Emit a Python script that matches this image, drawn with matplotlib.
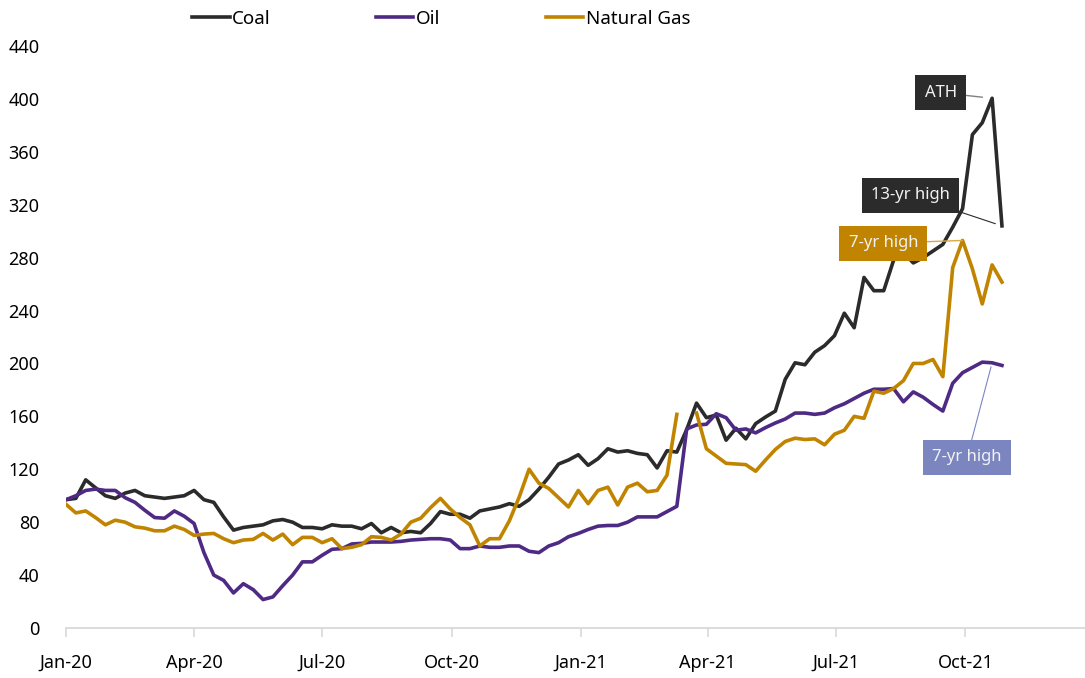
import matplotlib
matplotlib.use('Agg')
import matplotlib.pyplot as plt
import matplotlib.dates as mdates
import numpy as np
import pandas as pd

plt.rcParams['font.family'] = ['Noto Sans', 'DejaVu Sans']

# weekly index values, Jan-20 = ~100
weeks = pd.date_range('2020-01-01', periods=96, freq='7D')

coal = [97, 98, 112, 106, 100, 98, 102, 104, 100, 99,
        98, 99, 100, 104, 97, 95, 84, 74, 76, 77,
        78, 81, 82, 80, 76, 76, 75, 78, 77, 77,
        75, 79, 72, 76, 72, 73, 72, 79, 88, 86,
        86, 83, 88.5, 90, 91.5, 94, 92, 97, 105, 114,
        124, 127, 131, 123, 128, 135.5, 133, 134, 132, 131,
        121, 134, 133, 150, 170, 159, 161, 142, 151, 143,
        154.5, 159.5, 164, 188, 200.5, 199, 208.5, 213.5, 221, 238,
        227, 265, 255, 255, 278, 284, 276, 280, 285, 290,
        303, 317, 373, 382, 400.5, 304]

oil = [97, 100, 104, 105, 104, 104, 98.5, 95, 89, 83.5,
       83, 88.5, 84.5, 79, 57, 40, 36, 26.5, 33.5, 29,
       21.5, 23.5, 32, 40, 50, 50, 55, 59.5, 60, 63.5,
       64, 65, 65, 65, 65.5, 66.5, 67, 67.5, 67.5, 66.5,
       60, 60, 62, 61, 61, 62, 62, 58, 57, 62,
       64.5, 69, 71.5, 74.5, 77, 77.5, 77.5, 80, 84, 84,
       84, 88, 92, 150.5, 153.5, 154, 162, 159, 149.5, 150.5,
       147.5, 151.5, 155, 158, 162.5, 162.5, 161.5, 162.5, 166.5, 169.5,
       173.5, 177.5, 180.5, 180.5, 181, 171, 178.5, 174.5, 169, 164,
       185, 193, 197, 201, 200.5, 198.5]

gas = [93.5, 87, 88.5, 83.5, 78, 81.5, 80, 76.5, 75.5, 73.5,
       73.5, 77, 74.5, 70, 71, 71.5, 67.5, 64.5, 66.5, 67,
       71.5, 66.5, 71, 63, 68.5, 68.5, 64.5, 67.5, 60, 61,
       63, 69, 68.5, 66.5, 71, 80, 83, 91, 98, 90,
       83.5, 78, 62, 67.5, 67.5, 81, 99, 120, 109.5, 105.5,
       98.5, 91.5, 104, 94, 104, 106.5, 93, 106.5, 109.5, 103,
       104, 115.5, 161.5, np.nan, 162.5, 135.5, 130, 124.5, 124, 123.5,
       118.5, 127, 135, 141, 143.5, 142.5, 143, 138.5, 146.5, 149.5,
       160, 158.5, 179, 177.5, 181, 187, 200, 200, 203, 190,
       272.5, 293, 271.5, 245, 274.5, 261.5]

COAL = '#2b2b2b'
OIL = '#4e2a84'
GAS = '#c08400'
OIL_BOX = '#7b86c1'


def label_box(ax, text, xy, offset, box_color, line_color, line_width, shrink):
    ax.annotate(text, xy=xy, xytext=offset, textcoords='offset points',
                ha='center', va='center', fontsize=12, color='#f2f2f2',
                bbox=dict(boxstyle='square,pad=0.56', fc=box_color, ec='none'),
                arrowprops=dict(arrowstyle='-', color=line_color, lw=line_width,
                                shrinkA=0, shrinkB=shrink))


def main() -> None:
    fig = plt.figure(figsize=(10.85, 6.78), dpi=100)
    ax = fig.add_axes([66 / 1085, 50 / 678, 1 - 66 / 1085, 582 / 678])

    ax.plot(weeks, coal, color=COAL, lw=2.6, label='Coal')
    ax.plot(weeks, oil, color=OIL, lw=2.6, label='Oil')
    ax.plot(weeks, gas, color=GAS, lw=2.6, label='Natural Gas')

    ax.set_ylim(0, 440)
    ax.set_yticks(np.arange(0, 441, 40))
    ax.set_xlim(pd.Timestamp('2020-01-01'), pd.Timestamp('2021-12-25'))
    ax.xaxis.set_major_locator(mdates.MonthLocator(bymonth=[1, 4, 7, 10]))
    ax.xaxis.set_major_formatter(mdates.DateFormatter('%b-%y'))

    for side in ['top', 'right', 'left']:
        ax.spines[side].set_visible(False)
    ax.spines['bottom'].set_color('#d9d9d9')
    ax.spines['bottom'].set_linewidth(1.3)
    ax.tick_params(axis='x', colors='#d9d9d9', length=6.5, width=1.2,
                   labelcolor='black', labelsize=13, pad=12)
    ax.tick_params(axis='y', length=0, labelsize=13, pad=19)

    # callouts
    label_box(ax, 'ATH', (weeks[94], coal[94]), (-37, 4), COAL, '#808080', 1.0, 7)
    label_box(ax, '13-yr high', (weeks[95], coal[95]), (-66, 22), COAL, COAL, 0.8, 5)
    label_box(ax, '7-yr high', (weeks[91], gas[91]), (-57, -2), GAS, '#d9a84a', 1.0, 0)
    label_box(ax, '7-yr high', (weeks[94], oil[94]), (-18, -68), OIL_BOX, OIL_BOX, 0.8, 3)

    fig.legend(loc='center left', bbox_to_anchor=(192 / 1085, 1 - 19 / 678),
               ncol=3, frameon=False, fontsize=13.5, handlelength=2.0,
               handletextpad=0.15, columnspacing=5.6, borderpad=0, borderaxespad=0)

    fig.savefig('out.png', dpi=100)


if __name__ == '__main__':
    main()
